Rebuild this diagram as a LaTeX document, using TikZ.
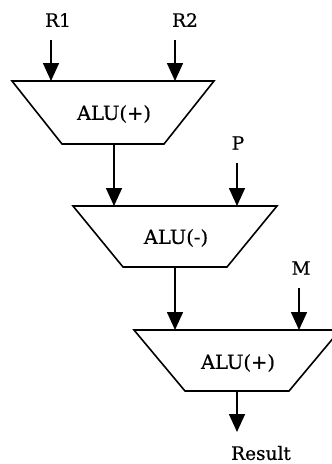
\documentclass[tikz,border=0pt]{standalone}
\usepackage{fontspec}
\setmainfont[FakeBold=0.6]{DejaVu Serif}
\usetikzlibrary{arrows.meta}
\begin{document}
\begin{tikzpicture}[x=1pt,y=-1pt,
  alu/.style={draw=black,line width=1.6pt,line join=miter,fill=white},
  wire/.style={draw=black,line width=1.6pt,-{Triangle[length=18pt,width=16pt]}},
  lbl/.style={font=\fontsize{18.5}{18.5}\selectfont,inner sep=0pt},
  alutext/.style={font=\fontsize{19.5}{19.5}\selectfont,inner sep=0pt}]
\useasboundingbox (0,0) rectangle (332,464);
% ALU 1
\draw[alu] (12,81) -- (214,81) -- (164,144) -- (62,144) -- cycle;
\node[alutext] (a1) at (114,114) {ALU(+)};
% ALU 2
\draw[alu] (73,206) -- (277,206) -- (227,267) -- (123,267) -- cycle;
\node[alutext] (a2) at (176,238) {ALU(-)};
% ALU 3
\draw[alu] (134,330) -- (340,330) -- (289,391) -- (185,391) -- cycle;
\node[alutext] (a3) at (238,363) {ALU(+)};
% labels
\node[lbl] (r1) at (58,20) {R1};
\node[lbl] (r2) at (185,20) {R2};
\node[lbl] (p) at (238,143) {P};
\node[lbl] (m) at (301,268) {M};
\node[lbl] (res) at (261,453) {Result};
% wire coordinates
\coordinate (r1s) at (51,40);  \coordinate (r1e) at (51,81);
\coordinate (r2s) at (175,40); \coordinate (r2e) at (175,81);
\coordinate (o1) at (114,144); \coordinate (i2a) at (114,206);
\coordinate (ps) at (237,163); \coordinate (pe) at (237,206);
\coordinate (o2) at (175,267); \coordinate (i3a) at (175,330);
\coordinate (ms) at (299,288); \coordinate (me) at (299,330);
\coordinate (o3) at (237,391); \coordinate (oe) at (237,432);
\draw[wire] (r1s) -- (r1e);
\draw[wire] (r2s) -- (r2e);
\draw[wire] (o1) -- (i2a);
\draw[wire] (ps) -- (pe);
\draw[wire] (o2) -- (i3a);
\draw[wire] (ms) -- (me);
\draw[wire] (o3) -- (oe);
\end{tikzpicture}
\end{document}
